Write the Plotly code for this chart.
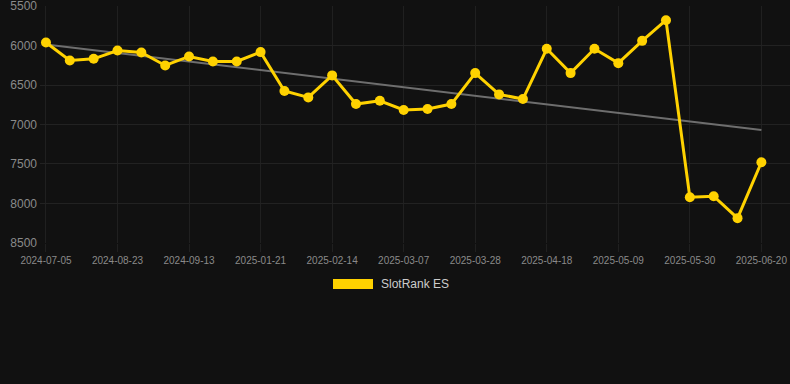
import plotly.graph_objects as go

dates = [
    "2024-07-05", "2024-07-19", "2024-08-09", "2024-08-23", "2024-08-30", "2024-09-06",
    "2024-09-13", "2024-10-04", "2024-11-15", "2025-01-21", "2025-01-28", "2025-02-07",
    "2025-02-14", "2025-02-21", "2025-02-28", "2025-03-07", "2025-03-14", "2025-03-21",
    "2025-03-28", "2025-04-04", "2025-04-11", "2025-04-18", "2025-04-25", "2025-05-02",
    "2025-05-09", "2025-05-16", "2025-05-23", "2025-05-30", "2025-06-06", "2025-06-13",
    "2025-06-20",
]
ranks = [
    5960, 6188, 6167, 6061, 6086, 6251, 6137, 6200, 6200, 6082, 6576, 6656,
    6377, 6741, 6699, 6816, 6804, 6741, 6348, 6618, 6677, 6040, 6348, 6040,
    6222, 5939, 5677, 7922, 7909, 8188, 7479,
]
trend_start = 5985
trend_end = 7070
tick_labels = dates[::3]
y_ticks = [5500, 6000, 6500, 7000, 7500, 8000, 8500]
series_name = "SlotRank ES"

gold = "#FFD200"
n = len(dates)

fig = go.Figure()
fig.add_trace(go.Scatter(
    x=[0, n - 1], y=[trend_start, trend_end], mode="lines",
    line=dict(color="#6e6e6e", width=2), hoverinfo="skip", showlegend=False,
))
fig.add_trace(go.Scatter(
    x=list(range(n)), y=ranks, mode="lines+markers", name=series_name,
    line=dict(color=gold, width=3), marker=dict(color=gold, size=10),
    showlegend=False,
))

fig.update_layout(
    width=790, height=384,
    paper_bgcolor="#111111", plot_bgcolor="#111111",
    margin=dict(l=40, r=0, t=6, b=141, autoexpand=False),
    font=dict(family="Liberation Sans, Arial, sans-serif", color="#8a8a8a"),
    xaxis=dict(
        range=[-0.25, 31.2],
        tickmode="array",
        tickvals=list(range(0, n, 3)),
        ticktext=tick_labels,
        tickfont=dict(size=10, color="#8a8a8a"),
        showgrid=True, gridcolor="#202020", gridwidth=1,
        ticks="outside", ticklen=8, tickcolor="#202020",
        zeroline=False, showline=False,
    ),
    yaxis=dict(
        range=[8503, 5497],
        tickmode="array", tickvals=y_ticks,
        tickfont=dict(size=12, color="#8a8a8a"),
        showgrid=True, gridcolor="#222222", gridwidth=1,
        zeroline=False, showline=False, ticks="",
        ticklabelstandoff=2, ticklabeloverflow="allow",
    ),
    showlegend=False,
    shapes=[dict(
        type="rect", xref="paper", yref="paper",
        x0=(333 - 40) / 750, x1=(373 - 40) / 750,
        y0=-(279 - 243) / 237, y1=-(289 - 243) / 237,
        fillcolor=gold, line=dict(width=0),
    )],
    annotations=[dict(
        text=series_name, xref="paper", yref="paper",
        x=(379 - 40) / 750, y=-(284 - 243) / 237,
        xanchor="left", yanchor="middle", showarrow=False,
        font=dict(size=12, color="#cccccc"),
    )],
)

fig.write_html(
    "out.html",
    config={"displayModeBar": False},
    post_script="document.body.style.margin='0';document.body.style.background='#111111';",
)
